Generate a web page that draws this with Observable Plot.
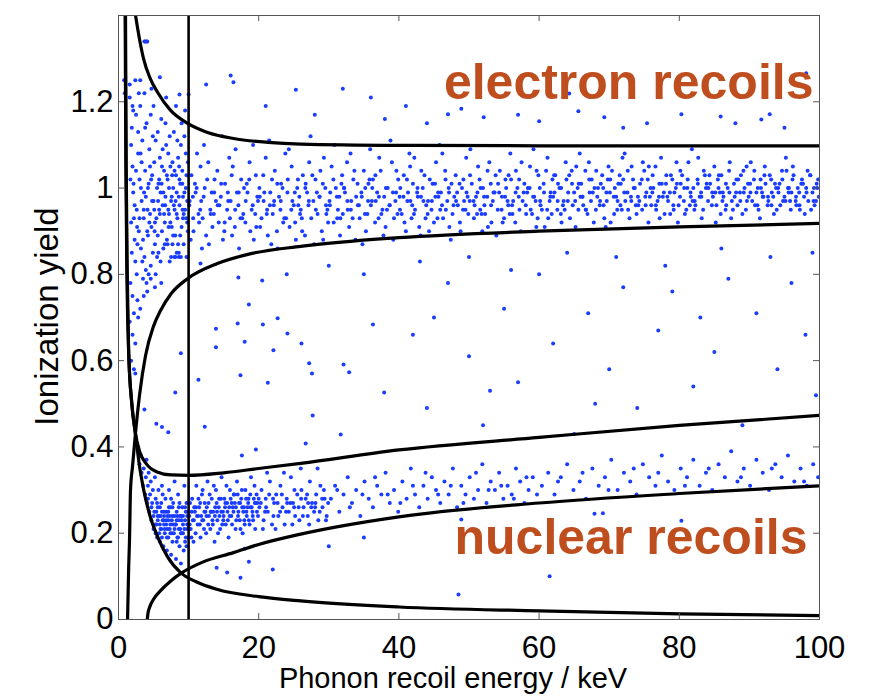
<!DOCTYPE html>
<html><head><meta charset="utf-8">
<script src="https://cdn.jsdelivr.net/npm/d3@7"></script>
<script src="https://cdn.jsdelivr.net/npm/@observablehq/plot@0.6"></script>
<style>body{margin:0;background:#fff}svg{display:block}</style>
</head><body><div id="chart"></div>
<script>
const xTicks=[0,20,40,60,80,100];
const xTickLabels=["0","20","40","60","80","100"];
const yTicks=[0,0.2,0.4,0.6,0.8,1,1.2];
const yTickLabels=["0","0.2","0.4","0.6","0.8","1","1.2"];
const xLabel="Phonon recoil energy / keV";
const yLabel="Ionization yield";
const erText="electron recoils";
const nrText="nuclear recoils";
const cutoffEnergy=[10];

// band boundary curves [energy, yield]
const erUpper=[[2.43,1.40],[3.0,1.345],[3.57,1.30],[4.5,1.255],[5.57,1.222],[7.43,1.18],[9.86,1.150],[12.7,1.129],[16.4,1.115],[21.3,1.106],[26,1.102],[40,1.099],[60,1.098],[80,1.098],[100,1.098]];
const erLower=[[1.29,0],[1.45,0.12],[1.57,0.183],[1.71,0.299],[2.0,0.355],[2.43,0.433],[3.0,0.52],[3.86,0.612],[5.0,0.68],[6.0,0.716],[7.5,0.755],[9.86,0.790],[14.1,0.825],[18.9,0.848],[26,0.865],[40,0.885],[60,0.90],[80,0.91],[100,0.918]];
const nrUpper=[[0.95,1.40],[1.05,1.05],[1.2,0.80],[1.45,0.62],[1.9,0.50],[2.4,0.433],[3.0,0.39],[4.0,0.36],[5.5,0.342],[7.5,0.335],[10,0.334],[15,0.34],[20,0.35],[26,0.362],[40,0.393],[60,0.422],[80,0.45],[100,0.473]];
const nrLower=[[4.1,0],[4.2,0.014],[4.5,0.031],[5.0,0.047],[6.0,0.067],[7.5,0.09],[9,0.108],[12,0.133],[16.4,0.155],[20,0.174],[26,0.198],[40,0.238],[60,0.27],[80,0.292],[100,0.31]];
const threshold=[[1.0,1.40],[1.1,1.05],[1.25,0.80],[1.45,0.62],[1.9,0.50],[2.4,0.433],[3.0,0.355],[3.6,0.30],[4.5,0.24],[5.5,0.195],[7.0,0.145],[8.9,0.108],[11,0.088],[14,0.07],[20,0.053],[26,0.043],[40,0.029],[60,0.02],[80,0.013],[100,0.009]];

// events: flat lists of energy, yield
const erLowXY=[1.6,1.21,1.8,.92,1.7,.78,2.0,1.05,2.2,.71,1.9,1.14,2.3,.88,2.1,.99,2.5,1.17,2.4,.83,2.6,.95,2.8,1.08,2.7,.74,2.9,.90,3.0,1.02,3.2,.86,3.1,1.19,3.3,.97,3.5,.79,3.4,1.11,3.6,.93,3.8,1.04,3.7,.84,3.9,.98,4.0,1.15,4.2,.89,4.1,.76,4.3,1.01,4.5,.94,4.4,1.09,4.6,.82,4.8,1.03,4.7,.91,4.9,1.12,5.0,.97,5.2,.87,5.1,1.06,5.3,.80,5.5,1.00,5.4,.93,5.6,1.13,5.8,.95,5.7,.85,5.9,1.07,6.0,.99,6.2,.90,6.1,1.16,6.3,.96,6.5,1.04,6.4,.86,6.6,.92,6.8,1.10,6.7,.98,6.9,.88,7.0,1.02,7.2,.94,7.1,1.08,7.3,.83,7.5,.97,7.4,1.05,7.6,.91,7.8,1.00,7.7,.87,7.9,1.13,8.0,.95,8.2,1.03,8.1,.89,8.3,.99,8.5,1.07,8.4,.93,8.6,.85,8.8,1.01,8.7,.96,8.9,1.10,9.0,.91,9.2,.98,9.1,1.04,9.3,.87,9.5,.95,9.4,1.12,9.6,1.00,9.8,.92,9.7,.84,9.9,1.06,
1.7,1.02,1.9,.85,2.1,1.18,2.3,.96,2.6,.80,2.8,1.13,3.0,.93,3.3,1.06,3.5,.88,3.7,1.22,3.9,.81,4.2,1.00,4.4,.92,4.6,1.17,4.9,.85,5.1,.95,5.3,1.11,5.6,.89,5.8,1.02,6.0,.83,6.3,1.09,6.5,.94,6.7,1.15,7.0,.87,7.2,1.00,7.4,.92,7.7,1.06,7.9,.96,8.1,.84,8.4,1.11,8.6,.98,8.8,.89,9.1,1.01,9.3,.94,9.6,1.08,9.8,.97,
1.8,1.10,2.0,.75,2.2,.93,2.5,1.04,2.7,.87,2.9,1.22,3.2,1.00,3.4,.83,3.6,.95,3.8,1.14,4.1,.90,4.3,.80,4.5,1.05,4.8,.97,5.0,1.19,5.2,.92,5.5,.84,5.7,1.01,5.9,.94,6.2,1.05,6.4,.99,6.6,.87,6.9,1.03,7.1,.95,7.3,1.12,7.6,.98,7.8,.89,8.0,1.04,8.3,.94,8.5,.87,8.7,1.02,9.0,1.15,9.2,.93,9.4,.99,9.7,1.03,9.9,.90,
7.5,.84,8.0,.84,8.3,.85,8.6,.84,8.9,.84,2.0,.66,2.4,.64,2.8,.70,3.1,.72,1.6,.69,1.8,.60,2.2,.58,3.6,.75,4.0,.78,4.6,.79,5.2,.77,6.1,.78,1.6,1.24,2.4,1.25,2.0,1.19,3.1,1.25,4.7,1.23,6.8,1.21,8.2,1.19,9.5,1.18,3.7,1.34,4.0,1.34,
2.15,1.01,2.65,.91,3.15,1.08,3.65,.99,4.15,.95,4.65,1.02,5.15,.90,5.65,.97,6.15,1.01,6.65,.96,7.15,.91,7.65,1.03,8.15,.97,8.65,1.05,9.15,.95,9.65,.93];

const erBandXY=[10.1,.96,10.4,1.03,10.7,.90,11.0,.99,11.2,1.08,11.5,.92,11.8,.97,10.3,.88,10.9,1.01,11.4,.94,11.7,1.05,11.9,.86,10.6,.98,
12.0,.93,12.3,1.00,12.5,.89,12.8,1.06,13.1,.95,13.4,.91,13.7,1.02,13.9,.97,12.2,1.10,12.9,.87,13.3,.99,13.6,.94,
14.1,1.04,14.3,.92,14.6,.98,14.9,.88,15.2,1.01,15.5,.95,15.8,1.07,14.4,.96,14.8,1.12,15.1,.90,15.6,.99,15.9,.93,
16.0,.97,16.3,1.05,16.6,.91,16.9,.99,17.2,.86,17.5,1.02,17.8,.94,16.2,.89,16.7,1.09,17.1,.96,17.4,.93,17.9,1.00,
18.1,.92,18.4,.99,18.7,1.06,19.0,.95,19.3,.88,19.6,1.03,19.9,.97,18.3,1.01,18.8,.90,19.2,1.10,19.5,.94,19.8,.98,
20.1,1.00,20.4,.93,20.7,.97,21.0,1.07,21.3,.89,21.6,.96,21.9,1.02,20.2,.91,20.8,.99,21.2,.95,21.5,1.11,21.8,.87,
22.0,.94,22.3,1.04,22.6,.90,22.9,.98,23.2,1.01,23.5,.92,23.8,1.08,22.2,.97,22.7,.86,23.1,.95,23.4,1.00,23.9,.93,
24.1,.99,24.4,.91,24.7,1.05,25.0,.96,25.3,.88,25.6,1.02,25.9,.94,24.3,1.09,24.8,.97,25.2,.92,25.5,1.00,25.8,.98,
26.0,.95,26.3,1.03,26.6,.89,26.9,.99,27.2,1.06,27.5,.93,27.8,.97,26.2,.90,26.7,1.01,27.1,.96,27.4,1.12,27.9,.87,
28.1,1.02,28.4,.94,28.7,.98,29.0,.90,29.3,1.07,29.6,.96,29.9,.92,28.3,.99,28.8,1.04,29.2,.88,29.5,1.00,29.8,.95,
30.1,.97,30.4,1.05,30.7,.92,31.0,1.00,31.3,.95,31.6,.89,31.9,1.03,30.2,.99,30.8,1.10,31.2,.93,31.5,.98,31.8,1.01,
32.0,.94,32.3,.99,32.6,1.06,32.9,.91,33.2,.97,33.5,1.02,33.8,.88,32.2,1.00,32.7,.95,33.1,1.08,33.4,.93,33.9,.98,
34.1,1.01,34.4,.93,34.7,.98,35.0,1.04,35.3,.90,35.6,.97,35.9,1.09,34.3,.96,34.8,.87,35.2,1.00,35.5,.94,35.8,1.02,
36.0,.96,36.3,1.02,36.6,.92,36.9,.99,37.2,1.07,37.5,.94,37.8,.89,36.2,1.00,36.7,.97,37.1,.93,37.4,1.04,37.9,.98,
38.1,.91,38.4,1.00,38.7,.96,39.0,1.06,39.3,.93,39.6,.99,39.9,1.02,38.3,.95,38.8,1.11,39.2,.88,39.5,.97,39.8,.94,
40.1,.98,40.4,.94,40.7,1.03,41.0,.90,41.3,.99,41.6,1.05,41.9,.96,40.2,1.00,40.8,.92,41.2,.97,41.5,1.08,41.8,.93,
42.0,1.01,42.3,.95,42.6,.99,42.9,.91,43.2,1.04,43.5,.97,43.8,.93,42.2,1.07,42.7,.98,43.1,.89,43.4,1.00,43.9,.96,
44.1,.94,44.4,1.02,44.7,.97,45.0,.92,45.3,1.06,45.6,.99,45.9,.95,44.3,.90,44.8,1.01,45.2,.98,45.5,.93,45.8,1.10,
46.0,.99,46.3,.93,46.6,1.04,46.9,.97,47.2,.91,47.5,1.01,47.8,.96,46.2,1.08,46.7,.95,47.1,1.00,47.4,.88,47.9,.98,
48.1,1.03,48.4,.96,48.7,.92,49.0,1.00,49.3,.97,49.6,1.07,49.9,.94,48.3,.99,48.8,.90,49.2,1.02,49.5,.95,49.8,.98,
50.1,.97,50.4,1.01,50.7,.93,51.0,.98,51.3,1.05,51.6,.95,51.9,.90,50.2,1.09,50.8,.96,51.2,.99,51.5,1.02,51.8,.94,
52.0,1.00,52.3,.94,52.6,.98,52.9,1.06,53.2,.92,53.5,.99,53.8,1.03,52.2,.96,52.7,.91,53.1,1.01,53.4,.97,53.9,.89,
54.1,.95,54.4,1.04,54.7,.98,55.0,.93,55.3,1.00,55.6,.96,55.9,1.08,54.3,.99,54.8,.92,55.2,1.02,55.5,.97,55.8,.94,
56.0,1.02,56.3,.97,56.6,.92,56.9,1.00,57.2,.95,57.5,1.06,57.8,.99,56.2,.94,56.7,1.04,57.1,.98,57.4,.90,57.9,1.01,
58.1,.96,58.4,1.00,58.7,1.05,59.0,.94,59.3,.98,59.6,.91,59.9,1.03,58.3,.99,58.8,.95,59.2,1.09,59.5,.97,59.8,.93,
60.1,1.00,60.4,.95,60.7,.99,61.0,1.04,61.3,.93,61.6,.98,61.9,1.02,60.2,.96,60.8,.91,61.2,1.07,61.5,.97,61.8,.94,
62.0,.98,62.3,1.03,62.6,.95,62.9,1.00,63.2,.92,63.5,.97,63.8,1.06,62.2,.99,62.7,1.01,63.1,.94,63.4,.96,63.9,1.02,
64.1,.97,64.4,.93,64.7,1.01,65.0,.99,65.3,1.05,65.6,.95,65.9,.98,64.3,1.03,64.8,.96,65.2,.91,65.5,1.00,65.8,1.08,
66.0,1.01,66.3,.96,66.6,1.04,66.9,.94,67.2,.99,67.5,1.02,67.8,.92,66.2,.98,66.7,.95,67.1,1.06,67.4,.97,67.9,1.00,
68.1,.95,68.4,1.00,68.7,.97,69.0,1.03,69.3,.93,69.6,.99,69.9,1.05,68.3,.98,68.8,1.01,69.2,.96,69.5,.91,69.8,1.02,
70.1,.99,70.4,1.04,70.7,.94,71.0,.98,71.3,1.01,71.6,.96,71.9,1.07,70.2,.92,70.8,1.00,71.2,.97,71.5,1.03,71.8,.95,
72.0,1.02,72.3,.97,72.6,.99,72.9,.93,73.2,1.05,73.5,1.00,73.8,.96,72.2,1.08,72.7,.95,73.1,.98,73.4,1.02,73.9,.94,
74.1,.98,74.4,1.01,74.7,.95,75.0,1.04,75.3,.99,75.6,.92,75.9,1.00,74.3,.97,74.8,1.06,75.2,.96,75.5,1.02,75.8,.98,
76.0,.96,76.3,1.00,76.6,1.05,76.9,.97,77.2,.93,77.5,1.01,77.8,.99,76.2,1.03,76.7,.95,77.1,.98,77.4,1.07,77.9,.94,
78.1,1.01,78.4,.97,78.7,.94,79.0,1.02,79.3,.99,79.6,1.06,79.9,.96,78.3,.98,78.8,1.03,79.2,.95,79.5,1.00,79.8,.92,
80.1,.98,80.4,1.03,80.7,1.00,81.0,.95,81.3,1.06,81.6,.99,81.9,.97,80.2,1.01,80.8,.94,81.2,1.02,81.5,.96,81.8,1.09,
82.0,1.00,82.3,.96,82.6,1.02,82.9,.98,83.2,.93,83.5,1.04,83.8,1.00,82.2,.97,82.7,1.07,83.1,.99,83.4,.95,83.9,1.01,
84.1,.97,84.4,1.01,84.7,.99,85.0,1.05,85.3,.96,85.6,1.00,85.9,.94,84.3,1.03,84.8,.98,85.2,.92,85.5,1.02,85.8,.99,
86.0,1.03,86.3,.98,86.6,.95,86.9,1.00,87.2,1.06,87.5,.97,87.8,1.01,86.2,.99,86.7,.96,87.1,1.04,87.4,.93,87.9,.98,
88.1,.99,88.4,1.02,88.7,.97,89.0,.94,89.3,1.00,89.6,1.05,89.9,.98,88.3,.96,88.8,1.03,89.2,.99,89.5,.95,89.8,1.01,
90.1,1.01,90.4,.97,90.7,1.04,91.0,.99,91.3,.95,91.6,1.02,91.9,.98,90.2,1.06,90.8,.96,91.2,1.00,91.5,.93,91.8,.99,
92.0,.98,92.3,1.01,92.6,.96,92.9,1.03,93.2,.99,93.5,.94,93.8,1.00,92.2,1.05,92.7,.97,93.1,1.02,93.4,.98,93.9,.95,
94.1,1.00,94.4,.96,94.7,1.02,95.0,.98,95.3,1.04,95.6,.99,95.9,.95,94.3,1.01,94.8,.97,95.2,1.07,95.5,1.00,95.8,.97,
96.0,.99,96.3,1.03,96.6,.97,96.9,1.00,97.2,.95,97.5,1.02,97.8,.98,96.2,1.05,96.7,.96,97.1,.99,97.4,1.01,97.9,.94,
98.1,1.00,98.4,.97,98.7,1.03,99.0,.99,99.3,.96,99.6,1.01,99.9,.98,98.3,1.04,98.8,.95,99.2,1.00,99.5,.97,99.8,1.02];

const erCoreXY=[10.15,.97,10.65,.93,11.15,1.00,11.65,.95,12.15,.98,12.65,1.02,13.15,.94,13.65,.99,14.15,.96,14.65,1.01,15.15,.92,15.65,.97,16.15,1.03,16.65,.95,17.15,.99,17.65,.93,18.15,.97,18.65,1.02,19.15,.96,19.65,.91,20.15,.98,20.65,1.03,21.15,.94,21.65,.99,22.15,.96,22.65,1.01,23.15,.97,23.65,.93,24.15,1.02,24.65,.95,25.15,.99,25.65,.96,26.15,.93,26.65,1.00,27.15,.97,27.65,1.03,28.15,.95,28.65,.98,29.15,1.01,29.65,.94,30.15,.96,30.65,1.02,31.15,.98,31.65,.93,32.15,1.00,32.65,.97,33.15,.95,33.65,1.04,34.15,.96,34.65,.99,35.15,.94,35.65,1.01,36.15,.97,36.65,1.03,37.15,.98,37.65,.95,38.15,1.00,38.65,.96,39.15,.99,39.65,1.04,40.15,.95,40.65,.98,41.15,1.02,41.65,.97,42.15,.94,42.65,1.00,43.15,.98,43.65,1.03,44.15,.97,44.65,.95,45.15,1.01,45.65,.98,46.15,.96,46.65,1.02,47.15,.99,47.65,.94,48.15,.97,48.65,1.01,49.15,.95,49.65,.99,50.15,1.03,50.65,.97,51.15,.94,51.65,1.00,52.15,.98,52.65,1.04,53.15,.96,53.65,.99,54.15,1.01,54.65,.95,55.15,.98,55.65,1.03,56.15,.96,56.65,.99,57.15,1.02,57.65,.97,58.15,.94,58.65,1.00,59.15,.98,59.65,1.04,60.15,.97,60.65,1.01,61.15,.95,61.65,.99,62.15,1.03,62.65,.97,63.15,1.00,63.65,.95,64.15,.99,64.65,1.04,65.15,.97,65.65,1.01,66.15,.98,66.65,.95,67.15,1.02,67.65,.99,68.15,1.04,68.65,.96,69.15,1.00,69.65,.97,70.15,1.02,70.65,.98,71.15,.95,71.65,1.01,72.15,.99,72.65,1.04,73.15,.97,73.65,1.00,74.15,.96,74.65,1.02,75.15,.98,75.65,1.05,76.15,.99,76.65,.96,77.15,1.01,77.65,.98,78.15,1.03,78.65,.99,79.15,.96,79.65,1.01,80.15,1.04,80.65,.97,81.15,1.00,81.65,.98,82.15,.95,82.65,1.01,83.15,.98,83.65,1.03,84.15,1.00,84.65,.96,85.15,.99,85.65,1.03,86.15,.97,86.65,1.01,87.15,.99,87.65,.95,88.15,1.02,88.65,.99,89.15,1.04,89.65,.97,90.15,.99,90.65,1.02,91.15,.96,91.65,1.00,92.15,1.03,92.65,.98,93.15,.96,93.65,1.01,94.15,.99,94.65,1.04,95.15,.97,95.65,1.00,96.15,1.02,96.65,.98,97.15,.96,97.65,1.01,98.15,.99,98.65,1.03,99.15,.97,99.65,1.00];

const nrBandXY=[3.0,.36,3.2,.38,3.3,.34,3.5,.31,3.6,.35,3.8,.29,3.9,.33,4.0,.37,4.1,.27,4.2,.31,4.3,.34,4.4,.25,4.5,.29,4.6,.32,4.7,.23,4.8,.27,4.9,.30,5.0,.21,5.1,.25,5.2,.33,5.3,.28,5.4,.22,5.5,.19,5.6,.26,5.7,.30,5.8,.24,5.9,.18,6.0,.21,6.1,.27,6.2,.31,6.3,.23,6.4,.17,6.5,.25,6.6,.20,6.7,.28,6.8,.22,6.9,.16,7.0,.24,7.1,.19,7.2,.30,7.3,.21,7.4,.26,7.5,.15,7.6,.23,7.7,.18,7.8,.27,7.9,.20,8.0,.32,8.1,.22,8.2,.14,8.3,.25,8.4,.19,8.5,.29,8.6,.21,8.7,.17,8.8,.24,8.9,.13,9.0,.20,9.1,.26,9.2,.22,9.3,.16,9.4,.31,9.5,.23,9.6,.19,9.7,.27,9.8,.21,9.9,.25,
4.2,.28,4.7,.26,5.0,.24,5.3,.20,5.6,.23,5.9,.22,6.2,.19,6.5,.22,6.8,.25,7.1,.23,7.4,.20,7.7,.24,8.0,.21,8.3,.18,8.6,.23,8.9,.20,9.2,.24,9.5,.18,9.8,.22,5.5,.27,6.0,.24,6.6,.21,7.2,.26,7.8,.22,8.4,.24,9.0,.23,9.6,.25,6.3,.29,7.5,.28,8.7,.27,
5.2,.22,5.8,.20,6.4,.23,7.0,.21,7.6,.20,8.2,.22,8.8,.21,9.4,.21,9.9,.19,6.9,.19,8.5,.19,9.7,.17,7.3,.24,6.1,.21,5.4,.25,
5.6,.24,5.9,.26,6.2,.25,6.5,.24,6.8,.23,7.1,.25,7.4,.22,7.7,.26,8.0,.24,8.3,.23,8.6,.26,8.9,.24,9.2,.20,9.5,.26,9.8,.24,
10.1,.24,10.3,.21,10.5,.28,10.7,.18,10.9,.25,11.1,.31,11.3,.22,11.5,.26,11.7,.19,11.9,.29,12.1,.23,12.3,.27,12.5,.20,12.7,.32,12.9,.24,13.1,.21,13.3,.28,13.5,.25,13.7,.18,13.9,.30,14.1,.23,14.3,.26,14.5,.21,14.7,.33,14.9,.25,15.1,.28,15.3,.22,15.5,.27,15.7,.19,15.9,.30,16.1,.24,16.3,.26,16.5,.29,16.7,.21,16.9,.32,17.1,.25,17.3,.23,17.5,.28,17.7,.20,17.9,.26,18.1,.30,18.3,.24,18.5,.27,18.7,.22,18.9,.33,19.1,.25,19.3,.28,19.5,.21,19.7,.29,19.9,.24,
10.2,.27,10.6,.23,11.0,.20,11.4,.28,11.8,.24,12.2,.21,12.6,.26,13.0,.29,13.4,.23,13.8,.26,14.2,.20,14.6,.28,15.0,.24,15.4,.31,15.8,.26,16.2,.22,16.6,.27,17.0,.29,17.4,.21,17.8,.25,18.2,.28,18.6,.23,19.0,.26,19.4,.31,19.8,.27,
10.4,.19,10.8,.26,11.2,.24,11.6,.22,12.0,.30,12.4,.25,12.8,.22,13.2,.25,13.6,.31,14.0,.27,14.4,.24,14.8,.22,15.2,.26,15.6,.23,16.0,.28,16.4,.25,16.8,.23,17.2,.27,17.6,.30,18.0,.22,18.4,.26,18.8,.29,19.2,.23,19.6,.27,
10.15,.22,10.45,.25,10.75,.23,11.05,.26,11.35,.24,11.65,.27,11.95,.23,12.25,.25,12.55,.24,12.85,.27,13.15,.25,13.45,.22,13.75,.24,14.05,.25,14.35,.28,14.65,.25,14.95,.23,15.25,.27,15.55,.25,15.85,.24,16.15,.27,16.45,.29,16.75,.26,17.05,.24,17.35,.27,17.65,.26,17.95,.23,18.25,.25,18.55,.28,18.85,.26,19.15,.24,19.45,.27,19.75,.25,
20.1,.26,20.4,.30,20.7,.23,21.0,.28,21.3,.25,21.6,.32,21.9,.22,22.2,.27,22.5,.29,22.8,.24,23.1,.31,23.4,.26,23.7,.22,24.0,.28,24.3,.25,24.6,.33,24.9,.27,25.2,.24,25.5,.29,25.8,.23,26.1,.30,26.4,.26,26.7,.28,27.0,.24,27.3,.32,27.6,.27,27.9,.25,28.2,.29,28.5,.23,28.8,.31,29.1,.26,29.4,.28,29.7,.24,
20.3,.27,20.9,.25,21.5,.29,22.1,.24,22.7,.27,23.3,.29,23.9,.25,24.5,.27,25.1,.30,25.7,.26,26.3,.24,26.9,.29,27.5,.26,28.1,.27,28.7,.25,29.3,.30,29.9,.27,
20.6,.21,21.2,.34,22.4,.21,23.6,.34,24.8,.22,26.0,.35,27.2,.22,28.4,.35,29.6,.23,
20.0,.28,21.05,.26,22.05,.28,23.05,.25,24.05,.27,25.05,.26,26.05,.28,27.05,.27,28.05,.26,29.05,.28,
30.3,.28,30.9,.31,31.5,.25,32.1,.29,32.7,.33,33.3,.27,33.9,.30,34.5,.24,35.1,.32,35.7,.28,36.3,.26,36.9,.31,37.5,.29,38.1,.34,38.7,.27,39.3,.30,39.9,.25,40.5,.32,41.1,.28,41.7,.35,42.3,.29,42.9,.26,43.5,.31,44.1,.28,44.7,.33,45.3,.30,45.9,.27,46.5,.32,47.1,.29,47.7,.35,48.3,.26,48.9,.31,49.5,.29,50.1,.33,50.7,.28,51.3,.30,51.9,.36,52.5,.27,53.1,.32,53.7,.30,54.3,.34,54.9,.28,55.5,.31,56.1,.29,56.7,.35,57.3,.32,57.9,.27,58.5,.30,59.1,.33,59.7,.29,
31.2,.30,33.0,.26,34.8,.29,36.6,.33,38.4,.29,40.2,.27,42.0,.31,43.8,.34,45.6,.29,47.4,.31,49.2,.27,51.0,.34,52.8,.30,54.6,.31,56.4,.28,58.2,.33,
60.4,.31,61.3,.34,62.2,.29,63.1,.33,64.0,.36,64.9,.30,65.8,.32,66.7,.28,67.6,.35,68.5,.31,69.4,.33,70.3,.37,71.2,.30,72.1,.34,73.0,.32,73.9,.29,74.8,.36,75.7,.33,76.6,.31,77.5,.38,78.4,.32,79.3,.30,80.2,.35,81.1,.33,82.0,.37,82.9,.31,83.8,.34,84.7,.30,85.6,.36,86.5,.33,87.4,.39,88.3,.32,89.2,.35,90.1,.31,91.0,.37,91.9,.34,92.8,.30,93.7,.36,94.6,.33,95.5,.38,96.4,.32,97.3,.35,98.2,.31,99.1,.36,99.8,.33,
62.7,.32,66.2,.34,69.9,.30,73.5,.35,77.0,.34,80.8,.31,84.2,.35,88.8,.33,93.2,.35,97.8,.32,48.9,.232,67.9,.245,69.1,.246,80.3,.229];

const strayXY=[0.8,1.25,0.9,1.22,4.1,1.34,3.8,1.34,5.9,1.257,8.7,1.217,10,1.217,16,1.261,16.4,1.245,25.3,1.228,12.5,1.24,21,1.19,28,1.17,32,1.23,36,1.21,41,1.19,47,1.171,48.9,1.184,52.1,1.164,64.3,1.219,65.6,1.178,69.3,1.164,75.4,1.15,80.3,1.171,85.9,1.166,91.7,1.159,92.9,1.171,98.1,1.266,57,1.17,38,1.16,44,1.15,60,1.155,72,1.14,88,1.15,95,1.14,
11.7,.825,17.1,.793,20.5,.786,18.6,.73,24,.80,30,.82,35,.80,43,.83,50,.84,56,.81,64,.85,71,.84,78,.82,86,.86,93,.84,99,.85,
13.9,.674,17,.686,20.6,.684,22.7,.698,24.1,.663,26.1,.64,27.2,.594,27.6,.57,32.1,.591,32.9,.573,37.9,.526,36.3,.684,27.7,.473,31.7,.429,26.7,.408,19.6,.394,17.6,.38,11.4,.556,17.4,.566,21.3,.549,22.1,.624,18,.644,13.9,.631,12.3,.447,8.9,.617,8.1,.526,5.4,.454,6.2,.446,7.1,.434,3.7,.487,2.4,.57,
42,.66,44,.49,47,.78,50,.61,52,.45,55,.72,57,.55,60,.80,62,.64,65,.43,67,.71,70,.58,72,.77,74,.49,77,.67,79,.76,82,.54,85,.62,87,.79,89,.45,91,.71,94,.58,96,.78,98,.66,99.5,.52,45,.70,53,.53,68,.50,83,.70,
14,.12,15.5,.109,17.4,.097,18.6,.134,22,.116,18,.164,48.5,.058,61.5,.10,30,.17,35,.19];

const toPoints = a => { const out=[]; for (let i=0;i<a.length;i+=2) out.push({x:a[i],y:a[i+1]}); return out; };
const events=[...toPoints(erLowXY),...toPoints(erBandXY),...toPoints(erCoreXY),...toPoints(nrBandXY),...toPoints(strayXY)];

const W=878,H=697,mL=118,mR=59,mT=15,mB=78;
const pw=W-mL-mR, ph=H-mT-mB;
const font="'Liberation Sans', Arial, Helvetica, sans-serif";
const curveOpts={x:d=>d[0],y:d=>d[1],curve:"monotone-x",stroke:"#000",strokeWidth:3.2,clip:true};

const chart=Plot.plot({
  width:W,height:H,marginLeft:mL,marginRight:mR,marginTop:mT,marginBottom:mB,
  style:{fontFamily:font,background:"#fff",color:"#000"},
  x:{domain:[0,100]},
  y:{domain:[0,1.4]},
  marks:[
    Plot.dot(events,{x:"x",y:"y",r:2.0,fill:"#1a3cff",stroke:null,clip:true}),
    Plot.line(erUpper,curveOpts),
    Plot.line(erLower,curveOpts),
    Plot.line(nrUpper,curveOpts),
    Plot.line(nrLower,curveOpts),
    Plot.line(threshold,curveOpts),
    Plot.ruleX(cutoffEnergy,{stroke:"#000",strokeWidth:2.6}),
    Plot.frame({stroke:"#555",strokeWidth:1}),
    Plot.tickX(xTicks,{x:d=>d,stroke:"#555",insetTop:ph-6}),
    Plot.tickX(xTicks,{x:d=>d,stroke:"#555",insetBottom:ph-6}),
    Plot.tickY(yTicks,{y:d=>d,stroke:"#555",insetRight:pw-6}),
    Plot.tickY(yTicks,{y:d=>d,stroke:"#555",insetLeft:pw-6}),
    Plot.axisX(xTicks,{tickSize:0,tickPadding:16,fontSize:31,label:null,tickFormat:d=>xTickLabels[xTicks.indexOf(d)]}),
    Plot.axisY(yTicks,{tickSize:0,tickPadding:5,fontSize:31,label:null,tickFormat:d=>yTickLabels[yTicks.indexOf(d)]}),
    Plot.text([xLabel],{text:d=>d,frameAnchor:"bottom",textAnchor:"middle",lineAnchor:"bottom",dx:-16,dy:68,fontSize:29,fill:"#000"}),
    Plot.text([yLabel],{text:d=>d,frameAnchor:"left",textAnchor:"middle",lineAnchor:"bottom",rotate:-90,dx:-61,dy:-1,fontSize:33,fill:"#000"}),
    Plot.text([erText],{text:d=>d,frameAnchor:"top-right",textAnchor:"end",lineAnchor:"bottom",dx:-6,dy:83,fontSize:50,fontWeight:"bold",fill:"#bf4e1f"}),
    Plot.text([nrText],{text:d=>d,frameAnchor:"bottom-right",textAnchor:"end",lineAnchor:"bottom",dx:-12,dy:-66,fontSize:50,fontWeight:"bold",fill:"#bf4e1f"})
  ]
});
document.getElementById("chart").appendChild(chart);
</script>
</body></html>
